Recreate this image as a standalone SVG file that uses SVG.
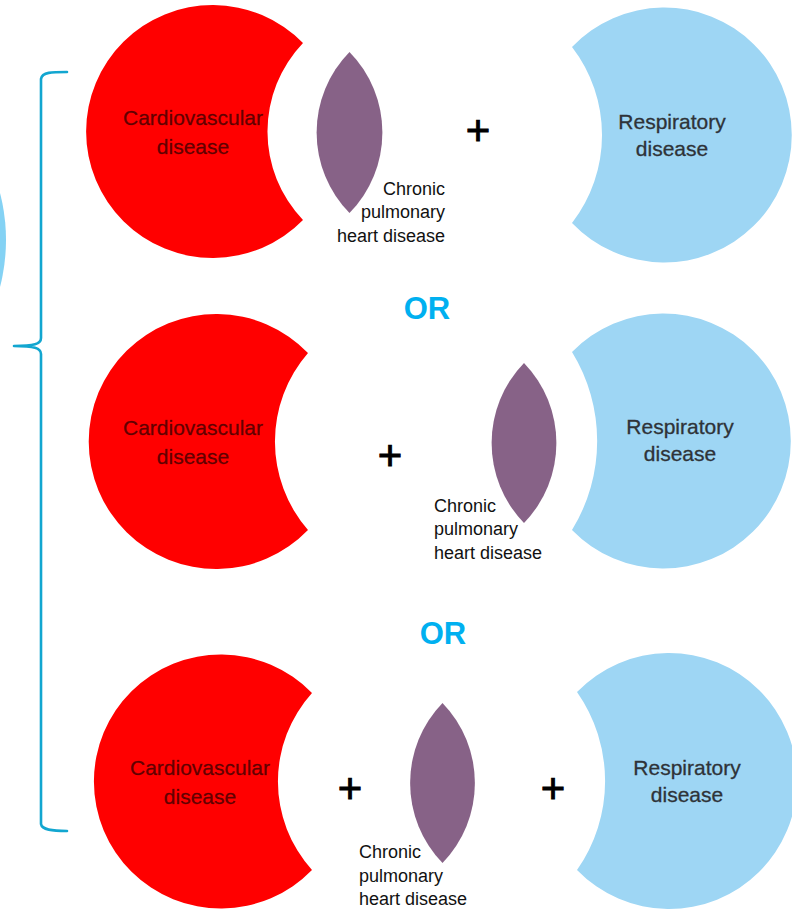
<svg xmlns="http://www.w3.org/2000/svg" width="792" height="909" viewBox="0 0 792 909">
<style>
.red{fill:#FF0000}
.blue{fill:#9ED6F4}
.lens{fill:#876287}
.cv{font-family:"Liberation Sans",Arial,sans-serif;font-size:21px;fill:#3a0000;fill-opacity:0.8;stroke:#3a0000;stroke-opacity:0.5;stroke-width:0.4;text-anchor:middle}
.rs{font-family:"Liberation Sans",Arial,sans-serif;font-size:21px;fill:#2e3338;stroke:#2e3338;stroke-width:0.3;text-anchor:middle}
.ch{font-family:"Liberation Sans",Arial,sans-serif;font-size:18px;fill:#111}
.plus{font-family:"Liberation Sans",Arial,sans-serif;font-size:42px;fill:#000;stroke:#000;stroke-width:0.9;text-anchor:middle}
.or{font-family:"Liberation Sans",Arial,sans-serif;font-size:31px;font-weight:bold;fill:#00B0F0;text-anchor:middle}
.brace{fill:none;stroke:#12A6D0;stroke-width:2.6;stroke-linecap:round;stroke-linejoin:round}
</style>
<rect width="792" height="909" fill="#FFFFFF"/>
<g id="edge-circle"><circle cx="-182" cy="240" r="188" fill="#84D2F4"/></g>
<g id="connectors">
<path class="brace" d="M67,72 C52,72 42,72 41,79 L41,338 C41,344 34,346 14,346 C34,346 41,348 41,354 L41,824 C42,830 52,831 67,831"/>
</g>
<g id="cardio-1">
<path class="red" d="M303,43 A126.5,126.5 0 1 0 303,220 A128,128 0 0 1 303,43 Z"/>
<text class="cv" x="193" y="125">Cardiovascular</text>
<text class="cv" x="193" y="154">disease</text>
</g>
<g id="cphd-1">
<path class="lens" d="M349.5,52 A115,115 0 0 0 349.5,213 A115,115 0 0 0 349.5,52 Z"/>
<text class="ch" text-anchor="end" x="445" y="195">Chronic</text>
<text class="ch" text-anchor="end" x="445" y="218">pulmonary</text>
<text class="ch" text-anchor="end" x="445" y="242">heart disease</text>
</g>
<g id="plus-1"><text class="plus" x="478" y="144.5">+</text></g>
<g id="resp-1">
<path class="blue" d="M572,47 A127.5,127.5 0 1 1 572,223 A144,144 0 0 0 572,47 Z"/>
<text class="rs" x="672" y="129">Respiratory</text>
<text class="rs" x="672" y="156">disease</text>
</g>
<g id="or-1"><text class="or" x="427" y="319">OR</text></g>
<g id="cardio-2">
<path class="red" d="M308,353 A127.5,127.5 0 1 0 308,530 A135,135 0 0 1 308,353 Z"/>
<text class="cv" x="193" y="435">Cardiovascular</text>
<text class="cv" x="193" y="464">disease</text>
</g>
<g id="plus-2"><text class="plus" x="390" y="469.5">+</text></g>
<g id="cphd-2">
<path class="lens" d="M524,363 A115,115 0 0 0 524,523 A115,115 0 0 0 524,363 Z"/>
<text class="ch" x="434" y="512">Chronic</text>
<text class="ch" x="434" y="535">pulmonary</text>
<text class="ch" x="434" y="559">heart disease</text>
</g>
<g id="resp-2">
<path class="blue" d="M572,352 A127.5,127.5 0 1 1 572,530 A170,170 0 0 0 572,352 Z"/>
<text class="rs" x="680" y="434">Respiratory</text>
<text class="rs" x="680" y="461">disease</text>
</g>
<g id="or-2"><text class="or" x="443" y="644">OR</text></g>
<g id="cardio-3">
<path class="red" d="M312,693 A127,127 0 1 0 312,870 A132,132 0 0 1 312,693 Z"/>
<text class="cv" x="200" y="775">Cardiovascular</text>
<text class="cv" x="200" y="804">disease</text>
</g>
<g id="plus-3"><text class="plus" x="350" y="802.5">+</text></g>
<g id="cphd-3">
<path class="lens" d="M442.5,703 A115,115 0 0 0 442.5,863 A115,115 0 0 0 442.5,703 Z"/>
<text class="ch" x="359" y="858">Chronic</text>
<text class="ch" x="359" y="882">pulmonary</text>
<text class="ch" x="359" y="905">heart disease</text>
</g>
<g id="plus-4"><text class="plus" x="553" y="802.5">+</text></g>
<g id="resp-3">
<path class="blue" d="M577,692 A128,128 0 1 1 577,870 A155,155 0 0 0 577,692 Z"/>
<text class="rs" x="687" y="775">Respiratory</text>
<text class="rs" x="687" y="802">disease</text>
</g>
</svg>
